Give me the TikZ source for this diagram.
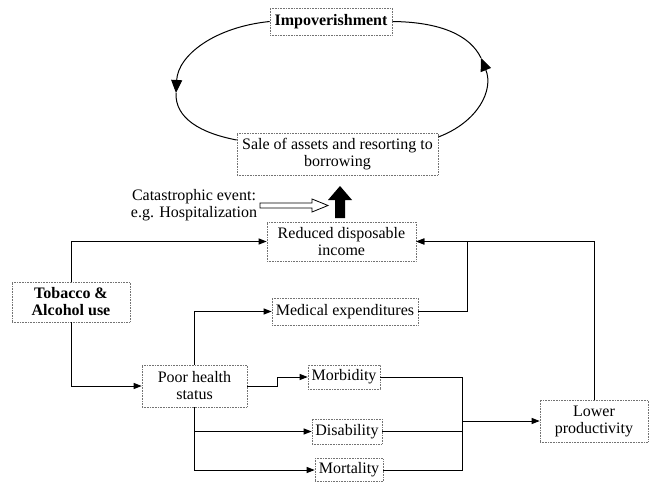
\documentclass[tikz,border=0pt]{standalone}
\usepackage{fontspec}
\setmainfont{Liberation Serif}
\usetikzlibrary{arrows.meta}
\begin{document}
\begin{tikzpicture}[x=1pt,y=-1pt,
  txt/.style={font=\fontsize{16}{17}\selectfont, align=center},
  box/.style={txt, draw=black!55, densely dotted, line width=0.6pt, fill=white, inner sep=2pt},
  arr/.style={-{Triangle[length=8pt,width=6pt]}, line width=1pt},
  ln/.style={line width=1pt},
  looparr/.style={line width=1pt, -{Triangle[length=13pt,width=11pt]}}
]
\path[use as bounding box] (0,0) rectangle (649,482);

% nodes
\node[box, minimum width=122pt, minimum height=27pt] (imp) at (331,21.5) {\textbf{Impoverishment}};
\node[box, minimum width=201pt, minimum height=42pt] (sale) at (337.5,154) {Sale of assets and resorting to\\borrowing};
\node[txt] (cat) at (194,205) {Catastrophic event:\\e.g. Hospitalization};
\node[box, minimum width=149pt, minimum height=39pt] (red) at (341.5,241.5) {Reduced disposable\\income};
\node[box, minimum width=118pt, minimum height=40pt] (tob) at (71,302) {\textbf{Tobacco \&}\\\textbf{Alcohol use}};
\node[box, minimum width=146pt, minimum height=27pt] (med) at (345,311.5) {Medical expenditures};
\node[box, minimum width=105pt, minimum height=42pt] (poor) at (194.5,386) {Poor health\\status};
\node[box, minimum width=72pt, minimum height=24pt] (morb) at (344,377) {Morbidity};
\node[box, minimum width=70pt, minimum height=25pt] (dis) at (347,431.5) {Disability};
\node[box, minimum width=68pt, minimum height=23pt] (mort) at (349,470) {Mortality};
\node[box, minimum width=108pt, minimum height=42pt] (lowp) at (594,421) {Lower\\productivity};

% loop
\coordinate (lt) at (176,93);
\coordinate (rt) at (481,58);
\draw[looparr] (imp.west) .. controls (215,27) and (178,55) .. (lt);
\draw[ln] (lt) .. controls (175,118) and (200,133) .. ([yshift=14pt]sale.west);
\draw[looparr] ([yshift=17pt]sale.east) .. controls (478,122) and (494,90) .. (rt);
\draw[ln] (rt) .. controls (470,35) and (440,22) .. (imp.east);

% catastrophic event arrows
\draw[line width=0.8pt, fill=white] (260,203) -- (312,203) -- (312,199) -- (328,205.5) -- (312,212) -- (312,208) -- (260,208) -- cycle;
\fill (335,218) -- (335,200) -- (328,200) -- (340,186) -- (352,200) -- (345,200) -- (345,218) -- cycle;

% connectors
\draw[arr] (tob.north) |- (red.west);
\draw[arr] (tob.south) |- (poor.west);
\draw[arr] (poor.north) |- (med.west);
\draw[arr] (med.east) -- ++(49,0) |- (red.east);
\draw[arr] (lowp.north) |- (red.east);
\draw[arr] (poor.east) -- ++(30,0) |- (morb.west);
\draw[arr] (poor.south) |- (dis.west);
\draw[arr] (poor.south) |- (mort.west);
\coordinate (mx) at (462,421);
\draw[ln] (morb.east) -| (mx);
\draw[ln] (dis.east) -| (mx);
\draw[ln] (mort.east) -| (mx);
\draw[arr] (mx) -- (lowp.west);
\end{tikzpicture}
\end{document}
